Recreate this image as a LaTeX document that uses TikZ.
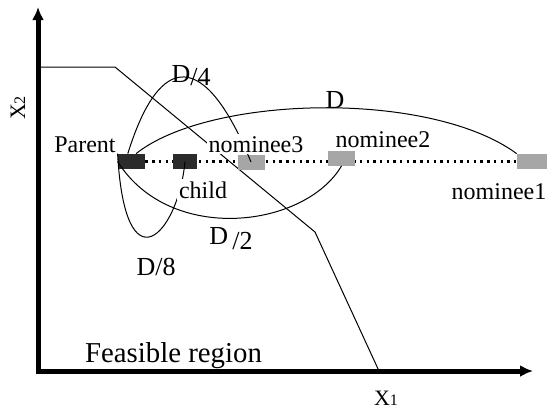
\documentclass[tikz,border=0pt]{standalone}
\usepackage{fontspec}
\setmainfont{Liberation Serif}
\usetikzlibrary{arrows.meta,backgrounds}

\begin{document}
\begin{tikzpicture}[
        x=0.5pt, y=-0.5pt, % pixel grid, y runs downwards
        axis/.style = {line width=2.5pt, {Latex[length=6.5pt,width=6pt]}-{Latex[length=6.5pt,width=6pt]}},
        bound/.style = {line width=0.5pt}, % constraint line
        arc/.style = {line width=0.5pt},
        darkcell/.style = {rectangle, fill=black!83, minimum width=13.5pt, minimum height=7.5pt, inner sep=0pt},
        greycell/.style = {darkcell, fill=black!35},
        dots/.style = {line width=1.2pt, dash pattern=on 1.2pt off 2.15pt},
        lbl/.style = {font=\fontsize{12}{14}\selectfont, inner sep=1pt, anchor=base},
        dlbl/.style = {font=\fontsize{13}{15}\selectfont, inner sep=0pt, anchor=base},
    ]
    \useasboundingbox (0,0) rectangle (549,408);

    % axes
    \coordinate (ytip) at (38,7);
    \coordinate (origin) at (38,371);
    \coordinate (xtip) at (533,371);
    \draw[axis] (ytip) -- (origin) -- (xtip);
    \node[font=\fontsize{11}{13}\selectfont, inner sep=0pt, anchor=base] (xlbl) at (386,405) {X{\fontsize{8}{9}\selectfont 1}};
    \node[font=\fontsize{11}{13}\selectfont, inner sep=0pt, rotate=90] (ylbl) at (18,108) {X{\fontsize{8}{9}\selectfont 2}};

    % constraint
    \coordinate (c0) at (38,67);
    \coordinate (c1) at (115,67);
    \coordinate (c2) at (315,232);
    \coordinate (c3) at (379,371);
    \draw[bound] (c0) -- (c1) -- (c2) -- (c3);

    % solutions
    \node[darkcell] (parent) at (131.5,161.5) {};
    \node[darkcell, minimum width=12pt] (child) at (185,161.5) {};
    \node[greycell] (n3) at (251,162) {};
    \node[greycell] (n2) at (341.5,158) {};
    \node[greycell, minimum width=15pt] (n1) at (532,161.5) {};
    \begin{scope}[on background layer]
        \draw[dots] (parent.east) -- (n1.west);
    \end{scope}

    % step lengths
    \draw[arc] (parent.60) .. controls (210,95) and (430,90) .. (n1.north west);
    \draw[arc] (parent.115) .. controls (160,50) and (205,50) .. (n3.center);
    \draw[arc] (parent.west) .. controls (170,245) and (305,228) .. (n2.south);
    \draw[arc] (parent.north west) .. controls (125,290) and (178,235) .. (child.center);

    \node[dlbl] (dfull) at (335,108) {D};
    \node[dlbl] (dquart) at (191,82) {D\raisebox{-1.5pt}{/4}};
    \node[dlbl] (dhalf) at (231,244) {D\,\raisebox{-2.5pt}{/2}};
    \node[dlbl] (deighth) at (156,275) {D/8};

    \node[lbl] (parentlbl) at (85,152) {Parent};
    \node[lbl, fill=white] (n3lbl) at (256,152) {nominee3};
    \node[lbl] (n2lbl) at (383,147) {nominee2};
    \node[lbl] (n1lbl) at (499,199) {nominee1};
    \node[lbl, fill=white] (childlbl) at (203,198) {child};
    \node[font=\fontsize{14.4}{16}\selectfont, inner sep=0pt, anchor=base] (region) at (173.5,362) {Feasible region};
\end{tikzpicture}
\end{document}
